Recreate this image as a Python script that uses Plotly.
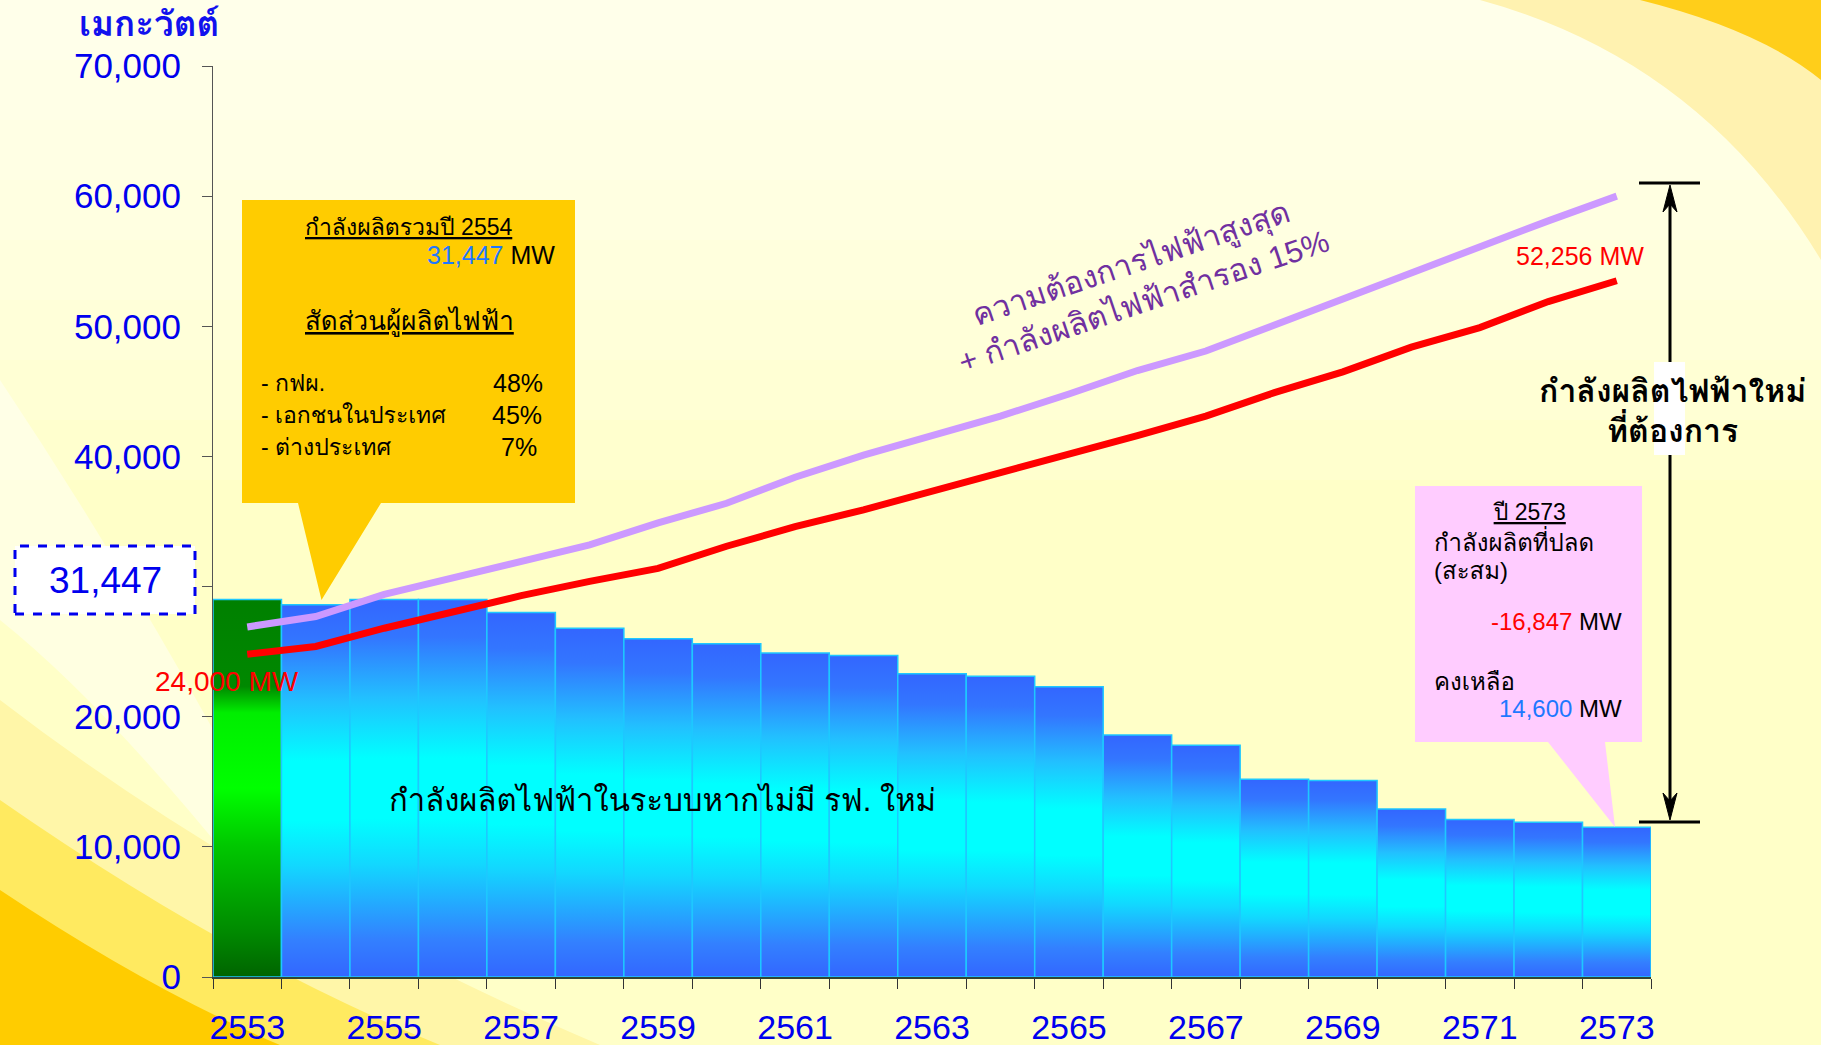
import plotly.graph_objects as go

# ---------------- data ----------------
years = list(range(2553, 2574))
capacity_mw = [29000, 28600, 29000, 29000, 28000, 26800, 26000, 25600, 24900, 24700,
               23300, 23100, 22300, 18600, 17800, 15200, 15100, 12900, 12100, 11900, 11500]
demand_plus_reserve = [26900, 27700, 29400, 30700, 32000, 33200, 34900, 36400, 38400, 40100,
                       41600, 43100, 44800, 46600, 48100, 50100, 52200, 54200, 56200, 58100, 60000]
peak_demand = [24800, 25400, 26800, 28100, 29300, 30400, 31400, 33100, 34600, 35900,
               37300, 38800, 40100, 41600, 43100, 44900, 46500, 48400, 49900, 51900, 53500]
x_tick_years = years[::2]
y_tick_vals = [0, 10000, 20000, 30000, 40000, 50000, 60000, 70000]
y_tick_text = ["0", "10,000", "20,000", "", "40,000", "50,000", "60,000", "70,000"]

# ---------------- layout geometry ----------------
W, H = 1821, 1045
L, R, T, B = 213, 170, 66, 68
PW, PH = W - L - R, H - T - B
FONT = "Liberation Sans, Tahoma, Loma, Garuda, Norasi, Noto Sans Thai Looped, Noto Sans Thai, sans-serif"


def px(x):
    return (x - L) / PW


def py(y):
    return (H - B - y) / PH


def path(cmds):
    out = []
    for c in cmds:
        op = c[0]
        nums = c[1:]
        pts = []
        for i in range(0, len(nums), 2):
            pts.append(f"{px(nums[i]):.5f},{py(nums[i+1]):.5f}")
        out.append(op + " ".join(pts))
    return " ".join(out) + " Z"


fig = go.Figure()

blue_scale = [[0, '#3366FF'], [0.1, '#3380FF'], [0.3, '#12D8FF'], [0.42, '#00FFFF'],
              [0.58, '#00FFFF'], [0.74, '#22C0FF'], [0.9, '#3376FF'], [1, '#3366FF']]
green_scale = [[0, '#006400'], [0.12, '#008A00'], [0.35, '#00C800'], [0.5, '#00FF00'],
               [0.7, '#00EE00'], [0.77, '#008800'], [1, '#008000']]

for yr, v in zip(years, capacity_mw):
    fig.add_trace(go.Scatter(
        x=[yr - 0.5, yr - 0.5, yr + 0.5, yr + 0.5, yr - 0.5],
        y=[0, v, v, 0, 0],
        mode='lines', fill='toself',
        fillgradient=dict(type='vertical',
                          colorscale=green_scale if yr == years[0] else blue_scale),
        line=dict(color='#1EC8FF', width=1.5),
        hoverinfo='skip', showlegend=False))

fig.add_trace(go.Scatter(x=years, y=demand_plus_reserve, mode='lines',
                         line=dict(color='#CC99FF', width=7), showlegend=False,
                         hoverinfo='skip'))
fig.add_trace(go.Scatter(x=years, y=peak_demand, mode='lines',
                         line=dict(color='#FF0000', width=7), showlegend=False,
                         hoverinfo='skip'))

shapes = []
# ---- background decoration ----
for k in range(8):
    shapes.append(dict(type='rect', xref='paper', yref='paper', layer='below',
                       x0=px(0), x1=px(W), y0=py(60 * (k + 1)), y1=py(0),
                       fillcolor='white', opacity=0.12, line=dict(width=0)))
# pale streak on the left
shapes.append(dict(type='path', xref='paper', yref='paper', layer='below',
                   path=path([('M', 0, 380), ('Q', 120, 560, 230, 760), ('L', 230, 860),
                              ('Q', 100, 700, 0, 620)]),
                   fillcolor='white', opacity=0.45, line=dict(width=0)))
shapes.append(dict(type='path', xref='paper', yref='paper', layer='below',
                   path=path([('M', 1480, 0), ('Q', 1700, 60, 1821, 260), ('L', 1821, 0)]),
                   fillcolor='#FFF2B0', line=dict(width=0)))
shapes.append(dict(type='path', xref='paper', yref='paper', layer='below',
                   path=path([('M', 1640, 0), ('Q', 1760, 30, 1821, 80), ('L', 1821, 0)]),
                   fillcolor='#FFCE1A', line=dict(width=0)))
shapes.append(dict(type='path', xref='paper', yref='paper', layer='below',
                   path=path([('M', 0, 700), ('Q', 260, 900, 600, 1045), ('L', 0, 1045)]),
                   fillcolor='#FFF6A8', line=dict(width=0)))
shapes.append(dict(type='path', xref='paper', yref='paper', layer='below',
                   path=path([('M', 0, 800), ('Q', 230, 960, 440, 1045), ('L', 0, 1045)]),
                   fillcolor='#FFEA60', line=dict(width=0)))
shapes.append(dict(type='path', xref='paper', yref='paper', layer='below',
                   path=path([('M', 0, 890), ('Q', 150, 990, 280, 1045), ('L', 0, 1045)]),
                   fillcolor='#FFCC00', line=dict(width=0)))

# ---- callouts ----
shapes.append(dict(type='path', xref='paper', yref='paper', layer='above',
                   path=path([('M', 242, 200), ('L', 575, 200), ('L', 575, 503), ('L', 381, 503),
                              ('L', 321.5, 600), ('L', 298, 503), ('L', 242, 503)]),
                   fillcolor='#FFCC00', line=dict(width=0)))
shapes.append(dict(type='path', xref='paper', yref='paper', layer='above',
                   path=path([('M', 1415, 486), ('L', 1642, 486), ('L', 1642, 742), ('L', 1605, 742),
                              ('L', 1615, 827), ('L', 1548, 742), ('L', 1415, 742)]),
                   fillcolor='#FFCCFF', line=dict(width=0)))
# dashed box
shapes.append(dict(type='rect', xref='paper', yref='paper', layer='above',
                   x0=px(15), x1=px(195), y0=py(614), y1=py(546),
                   fillcolor='white', line=dict(color='#0000EE', width=3, dash='dash')))
# dimension arrow
shapes.append(dict(type='line', xref='paper', yref='paper', layer='above',
                   x0=px(1670), x1=px(1670), y0=py(200), y1=py(805),
                   line=dict(color='black', width=3)))
for yy in (183, 822):
    shapes.append(dict(type='line', xref='paper', yref='paper', layer='above',
                       x0=px(1639), x1=px(1700), y0=py(yy), y1=py(yy),
                       line=dict(color='black', width=3)))
shapes.append(dict(type='path', xref='paper', yref='paper', layer='above',
                   path=path([('M', 1670, 185), ('L', 1677, 212), ('L', 1670, 204), ('L', 1663, 212)]),
                   fillcolor='black', line=dict(color='black', width=1)))
shapes.append(dict(type='path', xref='paper', yref='paper', layer='above',
                   path=path([('M', 1670, 820), ('L', 1677, 793), ('L', 1670, 801), ('L', 1663, 793)]),
                   fillcolor='black', line=dict(color='black', width=1)))
shapes.append(dict(type='rect', xref='paper', yref='paper', layer='above',
                   x0=px(1654), x1=px(1685), y0=py(455), y1=py(362),
                   fillcolor='white', line=dict(width=0)))

ann = []


def text(x, y, s, size, color='black', xanchor='center', bold=False, angle=0):
    if bold:
        s = '<b>' + s + '</b>'
    ann.append(dict(xref='paper', yref='paper', x=px(x), y=py(y), text=s, showarrow=False,
                    xanchor=xanchor, yanchor='middle', textangle=angle,
                    font=dict(family=FONT, size=size, color=color)))


text(149, 24, 'เมกะวัตต์', 35, '#1111EE', bold=True)
text(105, 580, '31,447', 37, '#0000EE')
# yellow callout
text(408, 227, '<u>กำลังผลิตรวมปี 2554</u>', 23)
text(557, 255, "<span style='color:#1E78FF'>31,447</span> MW", 25, xanchor='right')
text(409, 321, '<u>สัดส่วนผู้ผลิตไฟฟ้า</u>', 26)
text(259, 383, '- กฟผ.', 23, xanchor='left')
text(259, 415, '- เอกชนในประเทศ', 23, xanchor='left')
text(259, 447, '- ต่างประเทศ', 23, xanchor='left')
text(518, 383, '48%', 25)
text(517, 415, '45%', 25)
text(519, 447, '7%', 25)
# purple rotated label
text(1137, 282, 'ความต้องการไฟฟ้าสูงสุด<br>+ กำลังผลิตไฟฟ้าสำรอง 15%', 31, '#7030A0', angle=-18.5)
text(1580, 256, '52,256 MW', 25, '#FF0000')
text(227, 681, '24,000 MW', 28, '#FF0000')
text(662, 800, 'กำลังผลิตไฟฟ้าในระบบหากไม่มี รฟ. ใหม่', 31)
text(1672, 391, 'กำลังผลิตไฟฟ้าใหม่', 32, bold=True)
text(1672, 429, 'ที่ต้องการ', 32, bold=True)
# pink callout
text(1529, 512, '<u>ปี 2573</u>', 23)
text(1432, 541, 'กำลังผลิตที่ปลด', 24, xanchor='left')
text(1432, 570, '(สะสม)', 24, xanchor='left')
text(1624, 622, "<span style='color:#FF0000'>-16,847</span> MW", 24, xanchor='right')
text(1432, 681, 'คงเหลือ', 24, xanchor='left')
text(1624, 708, "<span style='color:#1E78FF'>14,600</span> MW", 24, xanchor='right')

fig.update_layout(
    width=W, height=H, margin=dict(l=L, r=R, t=T, b=B, pad=0, autoexpand=False),
    paper_bgcolor='#FFFFC8', plot_bgcolor='rgba(0,0,0,0)',
    showlegend=False, shapes=shapes, annotations=ann,
    font=dict(family=FONT),
    xaxis=dict(range=[years[0] - 0.5, years[-1] + 0.5], tickmode='array',
               tickvals=x_tick_years, ticktext=[str(v) for v in x_tick_years],
               ticks='', showgrid=False, zeroline=False, automargin=False,
               showline=True, linecolor='#334433', linewidth=2,
               tickfont=dict(family=FONT, size=34, color='#0000EE'),
               ticklabelstandoff=19,
               minor=dict(tickmode='linear', tick0=years[0] - 0.5, dtick=1,
                          ticks='outside', ticklen=10, tickcolor='#333333', tickwidth=1,
                          showgrid=False)),
    yaxis=dict(range=[0, 70000], tickmode='array', tickvals=y_tick_vals, ticktext=y_tick_text,
               ticks='outside', ticklen=10, tickcolor='#555555', tickwidth=1, automargin=False,
               showgrid=False, zeroline=False, showline=True, linecolor='#555555', linewidth=1,
               tickfont=dict(family=FONT, size=35, color='#0000EE'),
               ticklabelstandoff=14),
)

fig.write_html('out.html')
